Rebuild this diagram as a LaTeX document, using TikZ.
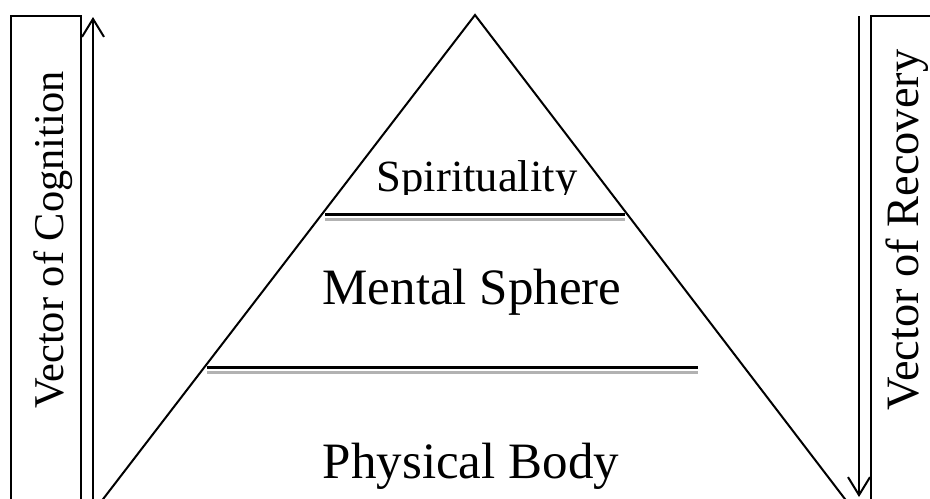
\documentclass[tikz,border=0pt]{standalone}
\usepackage{fontspec}
\setmainfont{Liberation Serif}
\usetikzlibrary{arrows.meta}

\begin{document}
\begin{tikzpicture}[x=0.5pt, y=-0.5pt,
  edge/.style={line width=1pt},
  sidebox/.style={line width=1.2pt},
  vecarrow/.style={line width=1pt, -{Straight Barb[length=9pt, width=11pt, line width=1pt]}},
  divider/.style={line width=1.5pt},
  shade/.style={line width=1.5pt, gray!60},
  level/.style={font=\fontsize{25.5}{30}\selectfont, inner sep=0pt, anchor=base},
  vlabel/.style={inner sep=0pt, anchor=base, rotate=90}]

  % Frame
  \useasboundingbox (0,0) rectangle (930,498);
  \clip (0,0) rectangle (930,498);

  % --- 1. Pyramid ---
  \draw[edge] (87,520) -- (475,15) -- (861,520);

  % --- 2. Dividers ---
  \draw[divider] (325,214) -- (625,214);
  \draw[shade] (325,219) -- (625,219);
  \draw[divider] (207,367) -- (698,367);
  \draw[shade] (207,372) -- (698,372);

  % --- 3. Levels ---
  \begin{scope}
    \clip (300,100) rectangle (650,194);
    \node[level, font=\fontsize{22.3}{26}\selectfont] (spirit) at (477,191) {Spirituality};
  \end{scope}
  \node[level] (mental) at (472,304) {Mental Sphere};
  \node[level] (physical) at (471,478) {Physical Body};

  % --- 4. Side boxes ---
  \draw[sidebox] (11,520) -- (11,16) -- (81,16) -- (81,520);
  \draw[sidebox] (871,520) -- (871,16) -- (950,16);
  \node[vlabel, font=\fontsize{21.2}{25}\selectfont] (cognition) at (63,240) {Vector of Cognition};
  \node[vlabel, font=\fontsize{23.2}{27}\selectfont] (recovery) at (918,230) {Vector of Recovery};

  % --- 5. Vectors ---
  \coordinate (cogtail) at (93,520);
  \coordinate (coghead) at (93,17);
  \draw[vecarrow] (cogtail) -- (coghead);

  \coordinate (rectail) at (859,16);
  \coordinate (rechead) at (859,497);
  \draw[vecarrow] (rectail) -- (rechead);

\end{tikzpicture}
\end{document}
